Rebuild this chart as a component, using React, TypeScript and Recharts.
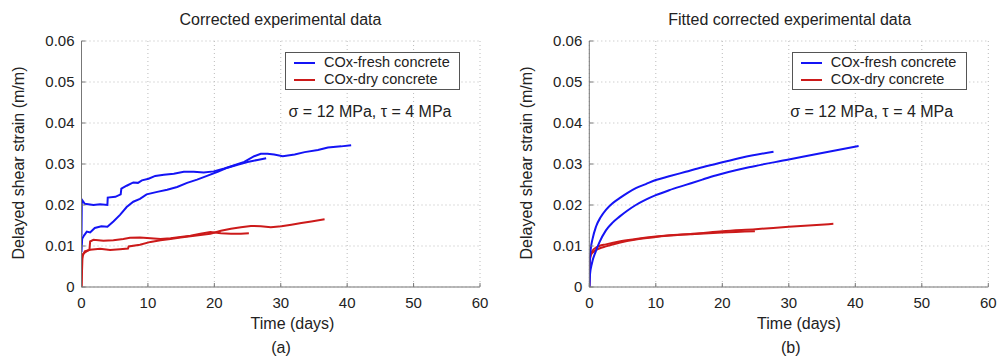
import { CartesianGrid, Line, LineChart, XAxis, YAxis } from "recharts";

const timeTicks = [0, 10, 20, 30, 40, 50, 60];
const strainTicks = [0, 0.01, 0.02, 0.03, 0.04, 0.05, 0.06];
const legendNames = ["COx-fresh concrete", "COx-dry concrete"];
const loadNote = "σ = 12 MPa, τ = 4 MPa";

const rawFresh1 = [
  { t: 0, v: 0.0125 }, { t: 0.05, v: 0.0213 }, { t: 0.5, v: 0.0203 }, { t: 1.8, v: 0.02 },
  { t: 2.8, v: 0.0202 }, { t: 3.9, v: 0.02 }, { t: 3.95, v: 0.0218 }, { t: 5.1, v: 0.022 },
  { t: 5.9, v: 0.0226 }, { t: 6.0, v: 0.024 }, { t: 6.8, v: 0.0247 }, { t: 7.8, v: 0.0255 },
  { t: 8.5, v: 0.0254 }, { t: 9.1, v: 0.026 }, { t: 10.1, v: 0.0264 }, { t: 11.1, v: 0.0271 },
  { t: 12.4, v: 0.0274 }, { t: 13.9, v: 0.0276 }, { t: 15.4, v: 0.0281 }, { t: 16.9, v: 0.0281 },
  { t: 18.4, v: 0.0279 }, { t: 19.9, v: 0.0282 }, { t: 21.5, v: 0.0289 }, { t: 23.0, v: 0.0297 },
  { t: 24.5, v: 0.0305 }, { t: 26.0, v: 0.0319 }, { t: 27.0, v: 0.0325 }, { t: 28.0, v: 0.0325 },
  { t: 29.0, v: 0.0323 }, { t: 30.3, v: 0.0319 }, { t: 32.1, v: 0.0323 }, { t: 33.6, v: 0.0329 },
  { t: 35.6, v: 0.0334 }, { t: 37.1, v: 0.034 }, { t: 39.1, v: 0.0343 }, { t: 40.6, v: 0.0346 },
];
const rawFresh2 = [
  { t: 0, v: 0.0085 }, { t: 0.1, v: 0.0118 }, { t: 0.4, v: 0.0126 }, { t: 0.8, v: 0.0135 },
  { t: 1.3, v: 0.0133 }, { t: 2.0, v: 0.0144 }, { t: 3.0, v: 0.0148 }, { t: 3.9, v: 0.0147 },
  { t: 4.8, v: 0.016 }, { t: 5.8, v: 0.0176 }, { t: 6.8, v: 0.0195 }, { t: 7.8, v: 0.0208 },
  { t: 8.8, v: 0.0215 }, { t: 9.8, v: 0.0226 }, { t: 11.4, v: 0.0232 }, { t: 12.9, v: 0.0237 },
  { t: 14.4, v: 0.0244 }, { t: 15.9, v: 0.0254 }, { t: 17.4, v: 0.0262 }, { t: 18.9, v: 0.0271 },
  { t: 20.5, v: 0.0281 }, { t: 22.0, v: 0.0291 }, { t: 23.5, v: 0.0298 }, { t: 25.0, v: 0.0305 },
  { t: 26.5, v: 0.031 }, { t: 27.8, v: 0.0314 },
];
const rawDry1 = [
  { t: 0, v: 0 }, { t: 0.05, v: 0.0067 }, { t: 0.25, v: 0.0081 }, { t: 0.75, v: 0.0087 },
  { t: 1.2, v: 0.0091 }, { t: 1.3, v: 0.0111 }, { t: 1.8, v: 0.0115 }, { t: 3.3, v: 0.0113 },
  { t: 4.8, v: 0.0114 }, { t: 6.3, v: 0.0117 }, { t: 7.3, v: 0.012 }, { t: 8.8, v: 0.0121 },
  { t: 10.4, v: 0.0119 }, { t: 11.9, v: 0.0117 }, { t: 13.4, v: 0.0119 }, { t: 14.9, v: 0.0122 },
  { t: 16.4, v: 0.0125 }, { t: 17.9, v: 0.013 }, { t: 19.4, v: 0.0134 }, { t: 21.0, v: 0.0131 },
  { t: 22.5, v: 0.013 }, { t: 24.0, v: 0.013 }, { t: 25.2, v: 0.0131 },
];
const rawDry2 = [
  { t: 0, v: 0 }, { t: 0.15, v: 0.0075 }, { t: 0.5, v: 0.0087 }, { t: 1.3, v: 0.0091 },
  { t: 2.8, v: 0.0093 }, { t: 4.3, v: 0.009 }, { t: 5.8, v: 0.0092 }, { t: 7.0, v: 0.0094 },
  { t: 7.1, v: 0.0099 }, { t: 8.8, v: 0.0103 }, { t: 10.4, v: 0.011 }, { t: 11.9, v: 0.0114 },
  { t: 13.4, v: 0.0117 }, { t: 14.9, v: 0.0121 }, { t: 16.4, v: 0.0124 }, { t: 17.9, v: 0.0127 },
  { t: 19.4, v: 0.013 }, { t: 21.0, v: 0.0137 }, { t: 22.5, v: 0.0142 }, { t: 24.0, v: 0.0146 },
  { t: 25.5, v: 0.0149 }, { t: 27.0, v: 0.0148 }, { t: 28.5, v: 0.0146 }, { t: 30.1, v: 0.0148 },
  { t: 31.6, v: 0.0152 }, { t: 33.1, v: 0.0156 }, { t: 34.6, v: 0.016 }, { t: 36.6, v: 0.0165 },
];

// (b) fitted curves
const fitFresh1 = [
  { t: 0, v: 0 }, { t: 0.05, v: 0.005 }, { t: 0.2, v: 0.009 }, { t: 0.5, v: 0.0118 },
  { t: 1, v: 0.0147 }, { t: 1.7, v: 0.017 }, { t: 2.5, v: 0.0188 }, { t: 3.5, v: 0.0204 },
  { t: 4.5, v: 0.0216 }, { t: 5.7, v: 0.0229 }, { t: 7, v: 0.0241 }, { t: 8.5, v: 0.0251 },
  { t: 10, v: 0.0261 }, { t: 12, v: 0.027 }, { t: 14.5, v: 0.0281 }, { t: 17, v: 0.0292 },
  { t: 19, v: 0.03 }, { t: 23, v: 0.0316 }, { t: 27.7, v: 0.033 },
];
const fitFresh2 = [
  { t: 0, v: 0 }, { t: 0.1, v: 0.003 }, { t: 0.4, v: 0.0058 }, { t: 1, v: 0.0088 },
  { t: 1.5, v: 0.0108 }, { t: 2.5, v: 0.0138 }, { t: 3.5, v: 0.0157 }, { t: 4.5, v: 0.0171 },
  { t: 5.7, v: 0.0186 }, { t: 7, v: 0.02 }, { t: 8.5, v: 0.0213 }, { t: 10, v: 0.0224 },
  { t: 12, v: 0.0236 }, { t: 14.5, v: 0.0249 }, { t: 17, v: 0.0262 }, { t: 19, v: 0.0272 },
  { t: 24, v: 0.0292 }, { t: 30, v: 0.0311 }, { t: 35, v: 0.0327 }, { t: 40.5, v: 0.0344 },
];
const fitDry1 = [
  { t: 0, v: 0 }, { t: 0.05, v: 0.0068 }, { t: 0.25, v: 0.0082 }, { t: 0.5, v: 0.0089 },
  { t: 1, v: 0.0096 }, { t: 1.5, v: 0.01 }, { t: 2.5, v: 0.0104 }, { t: 4.5, v: 0.0111 },
  { t: 7, v: 0.0117 }, { t: 10, v: 0.0123 }, { t: 16.6, v: 0.013 }, { t: 20, v: 0.0133 },
  { t: 24.9, v: 0.0136 },
];
const fitDry2 = [
  { t: 0, v: 0 }, { t: 0.05, v: 0.006 }, { t: 0.25, v: 0.0078 }, { t: 0.5, v: 0.0084 },
  { t: 1, v: 0.009 }, { t: 1.5, v: 0.0094 }, { t: 2.5, v: 0.0099 }, { t: 4.5, v: 0.0108 },
  { t: 7, v: 0.0116 }, { t: 10, v: 0.0122 }, { t: 16.6, v: 0.0131 }, { t: 20, v: 0.0136 },
  { t: 25, v: 0.0141 }, { t: 30, v: 0.0147 }, { t: 36.7, v: 0.0154 },
];

const BLUE = "#1414f5";
const RED = "#cc1a1a";
const FRAME = "#777";
const INK = "#222";
const FONT = "'Liberation Sans', Arial, sans-serif";
const H = 357;
const TOP = 41;
const BOTTOM = 70;
const GAP = 7;

const fmtStrain = (v: number) => (v === 0 ? "0" : v.toFixed(2));

function LeftTick({ x, y, payload }: any) {
  return (
    <g>
      <line x1={x + GAP} x2={x + GAP + 4} y1={y} y2={y} stroke={FRAME} />
      <text x={x} y={y} dy="0.36em" textAnchor="end" fontSize={15} fill={INK} fontFamily={FONT}>
        {fmtStrain(payload.value)}
      </text>
    </g>
  );
}

function BottomTick({ x, y, payload }: any) {
  return (
    <g>
      <line x1={x} x2={x} y1={y - 10} y2={y - 14} stroke={FRAME} />
      <text x={x} y={y} dy="0.71em" textAnchor="middle" fontSize={15} fill={INK} fontFamily={FONT}>
        {payload.value}
      </text>
    </g>
  );
}

function TopTick({ x, y }: any) {
  return <line x1={x} x2={x} y1={y} y2={y + 4} stroke={FRAME} />;
}

function RightTick({ x, y }: any) {
  return <line x1={x} x2={x - 4} y1={y} y2={y} stroke={FRAME} />;
}

const center: React.CSSProperties = {
  position: "absolute",
  transform: "translate(-50%, -50%)",
  whiteSpace: "nowrap",
  fontFamily: FONT,
  color: INK,
  fontSize: 16,
  lineHeight: "18px",
};

type Series = { data: { t: number; v: number }[]; color: string };

function Panel(props: {
  left: number;
  width: number;
  axisW: number;
  padR: number;
  title: string;
  tag: string;
  curve: "linear" | "monotone";
  series: Series[];
  titleX: number;
  yLabelX: number;
  xLabelX: number;
  tagX: number;
  legendX: number;
  noteX: number;
}) {
  const p = props;
  return (
    <div style={{ position: "absolute", left: p.left, top: 0, width: p.width, height: H }}>
      <LineChart width={p.width} height={H} margin={{ top: TOP, right: p.padR, bottom: 0, left: 0 }}>
        <CartesianGrid stroke="#bbb" strokeDasharray="1 3" />
        <XAxis
          dataKey="t"
          type="number"
          domain={[0, 60]}
          ticks={timeTicks}
          allowDataOverflow
          height={BOTTOM}
          tickSize={0}
          tickMargin={10}
          tickLine={false}
          axisLine={{ stroke: FRAME }}
          tick={<BottomTick />}
        />
        <XAxis
          xAxisId="top"
          orientation="top"
          type="number"
          domain={[0, 60]}
          ticks={timeTicks}
          height={0}
          tickSize={0}
          tickMargin={0}
          tickLine={false}
          axisLine={{ stroke: FRAME }}
          tick={<TopTick />}
        />
        <YAxis
          type="number"
          domain={[0, 0.06]}
          ticks={strainTicks}
          allowDataOverflow
          width={p.axisW}
          tickSize={0}
          tickMargin={GAP}
          tickLine={false}
          axisLine={{ stroke: FRAME }}
          tick={<LeftTick />}
        />
        <YAxis
          yAxisId="right"
          orientation="right"
          type="number"
          domain={[0, 0.06]}
          ticks={strainTicks}
          width={0}
          tickSize={0}
          tickMargin={0}
          tickLine={false}
          axisLine={{ stroke: FRAME }}
          tick={<RightTick />}
        />
        {p.series.map((s, i) => (
          <Line
            key={i}
            data={s.data}
            dataKey="v"
            type={p.curve}
            stroke={s.color}
            strokeWidth={2}
            dot={false}
            activeDot={false}
            isAnimationActive={false}
          />
        ))}
      </LineChart>

      <div style={{ ...center, left: p.titleX, top: 20 }}>{p.title}</div>
      <div style={{ ...center, left: p.yLabelX, top: 163, transform: "translate(-50%, -50%) rotate(-90deg)" }}>
        Delayed shear strain (m/m)
      </div>
      <div style={{ ...center, left: p.xLabelX, top: 324 }}>Time (days)</div>
      <div style={{ ...center, left: p.tagX, top: 348 }}>{p.tag}</div>
      <div style={{ ...center, left: p.noteX, top: 112 }}>{loadNote}</div>

      <div
        style={{
          position: "absolute",
          left: p.legendX,
          top: 52,
          width: 173,
          height: 36,
          border: "1px solid #555",
          background: "#fff",
          fontFamily: FONT,
          fontSize: 14.5,
          color: INK,
        }}
      >
        {legendNames.map((name, i) => (
          <div key={name} style={{ position: "absolute", left: 0, top: 1 + i * 17, height: 17, width: "100%" }}>
            <div
              style={{
                position: "absolute",
                left: 8,
                top: 8,
                width: 21,
                height: 2,
                background: i === 0 ? BLUE : RED,
              }}
            />
            <div style={{ position: "absolute", left: 38, top: 0, lineHeight: "17px", whiteSpace: "nowrap" }}>
              {name}
            </div>
          </div>
        ))}
      </div>
    </div>
  );
}

export default function App() {
  return (
    <div style={{ position: "absolute", left: 0, top: 0, width: 997, height: H, background: "#fff" }}>
      <Panel
        left={0}
        width={500}
        axisW={81.5}
        padR={20}
        title="Corrected experimental data"
        tag="(a)"
        curve="linear"
        series={[
          { data: rawDry1, color: RED },
          { data: rawDry2, color: RED },
          { data: rawFresh1, color: BLUE },
          { data: rawFresh2, color: BLUE },
        ]}
        titleX={280.5}
        yLabelX={18.5}
        xLabelX={292.5}
        tagX={281}
        legendX={285}
        noteX={370}
      />
      <Panel
        left={500}
        width={497}
        axisW={89.3}
        padR={8.7}
        title="Fitted corrected experimental data"
        tag="(b)"
        curve="monotone"
        series={[
          { data: fitDry1, color: RED },
          { data: fitDry2, color: RED },
          { data: fitFresh1, color: BLUE },
          { data: fitFresh2, color: BLUE },
        ]}
        titleX={289.7}
        yLabelX={26.7}
        xLabelX={299}
        tagX={290.8}
        legendX={291.7}
        noteX={371.7}
      />
    </div>
  );
}
